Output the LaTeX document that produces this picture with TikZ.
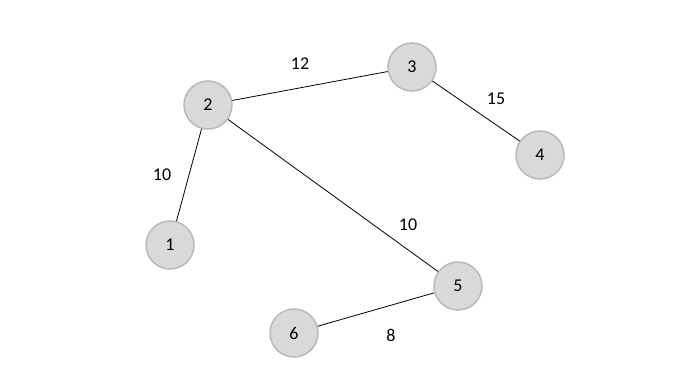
\documentclass[tikz,border=0pt]{standalone}
\usepackage{fontspec}
\setmainfont{Carlito}
\usepackage{tikz}

\begin{document}
\begin{tikzpicture}[x=1pt,y=-1pt,
   vertex/.style={draw=gray!55,line width=1.5pt,fill=gray!30,circle,minimum size=48pt,inner sep=0pt,font=\fontsize{18}{20}\selectfont},
   wt/.style={font=\fontsize{18}{20}\selectfont}]
   \useasboundingbox (0,0) rectangle (700,383);
   \node[vertex] (n2) at (208,105) {2};
   \node[vertex] (n3) at (412,67) {3};
   \node[vertex] (n4) at (540,155) {4};
   \node[vertex] (n1) at (170,245) {1};
   \node[vertex] (n5) at (458,286) {5};
   \node[vertex] (n6) at (294,333) {6};
   \path[-,line width=0.8pt] (n2) edge (n3)  (n3) edge (n4)  (n2) edge (n1)
            (n2) edge (n5)  (n5) edge (n6);
   \node[wt] (w23) at (300,64) {12};
   \node[wt] (w34) at (496,99) {15};
   \node[wt] (w21) at (162,175) {10};
   \node[wt] (w25) at (408,225) {10};
   \node[wt] (w56) at (391,335) {8};
  \end{tikzpicture}
\end{document}
